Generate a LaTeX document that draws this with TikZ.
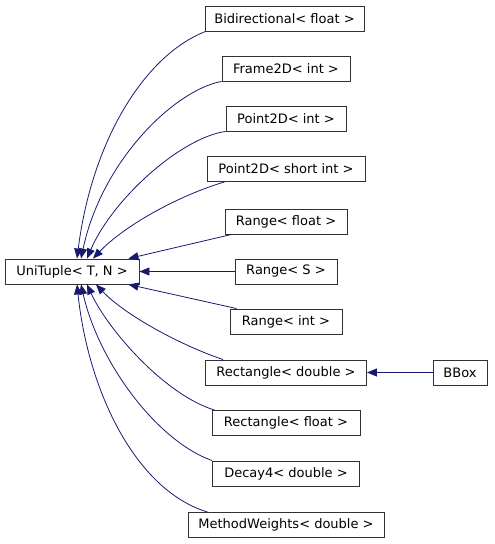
\documentclass[tikz,border=0pt]{standalone}
\usepackage{fontspec}
\setmainfont{DejaVu Sans}
\usetikzlibrary{arrows.meta}
\definecolor{cEdge}{RGB}{25,25,112}
\definecolor{cBorder}{RGB}{50,50,50}
\tikzset{
	cls/.style ={rectangle, draw=cBorder, line width=0.9pt, minimum height=25pt, inner sep=0pt, text centered, font=\fontsize{13}{15}\selectfont},
	inh/.style ={-{Triangle[length=10pt,width=8pt]}, draw=cEdge, line width=0.8pt},
}
\begin{document}
\begin{tikzpicture}[x=1pt, y=-1pt]
	\useasboundingbox (0,0) rectangle (495,544);
	% base class
	\node[cls, minimum width=134pt] (ut) at (72,271.5) {UniTuple< T, N >};
	% derived classes
	\node[cls, minimum width=159pt] (bid) at (284.5,18.5) {Bidirectional< float >};
	\node[cls, minimum width=128pt] (fr)  at (286,68.5)   {Frame2D< int >};
	\node[cls, minimum width=120pt] (pi)  at (286,118.5)  {Point2D< int >};
	\node[cls, minimum width=158pt] (ps)  at (286,169)    {Point2D< short int >};
	\node[cls, minimum width=122pt] (rf)  at (286,221.5)  {Range< float >};
	\node[cls, minimum width=102pt] (rs)  at (286,271.5)  {Range< S >};
	\node[cls, minimum width=112pt] (ri)  at (286,321.5)  {Range< int >};
	\node[cls, minimum width=161pt] (rd)  at (286,372.5)  {Rectangle< double >};
	\node[cls, minimum width=54pt]  (bb)  at (460,372.5)  {BBox};
	\node[cls, minimum width=148pt] (rfl) at (286,423)    {Rectangle< float >};
	\node[cls, minimum width=147pt] (dc)  at (286,473.5)  {Decay4< double >};
	\node[cls, minimum width=196pt] (mw)  at (286,525)    {MethodWeights< double >};
	% inheritance edges
	\draw[inh] ([xshift=1pt]bid.south west) .. controls (145,55) and (92,140) .. ([xshift=5pt]ut.north);
	\draw[inh] (fr.south west) .. controls (175,90) and (102,160) .. ([xshift=9pt]ut.north);
	\draw[inh] (pi.south west) .. controls (180,138) and (112,200) .. ([xshift=15pt]ut.north);
	\draw[inh] ([xshift=18pt]ps.south west) .. controls (180,195) and (125,225) .. ([xshift=21pt]ut.north);
	\draw[inh] ([xshift=7pt]rf.south west) -- ([xshift=-11pt]ut.north east);
	\draw[inh] (rs) -- (ut);
	\draw[inh] ([xshift=7pt]ri.north west) -- ([xshift=-11pt]ut.south east);
	\draw[inh] ([xshift=18pt]rd.north west) .. controls (180,345) and (125,315) .. ([xshift=24pt]ut.south);
	\draw[inh] ([xshift=3pt]rfl.north west) .. controls (165,395) and (108,330) .. ([xshift=15pt]ut.south);
	\draw[inh] (dc.north west) .. controls (155,440) and (98,360) .. ([xshift=9pt]ut.south);
	\draw[inh] ([xshift=20pt]mw.north west) .. controls (135,490) and (88,390) .. ([xshift=5pt]ut.south);
	\draw[inh] (bb) -- (rd);
\end{tikzpicture}
\end{document}
